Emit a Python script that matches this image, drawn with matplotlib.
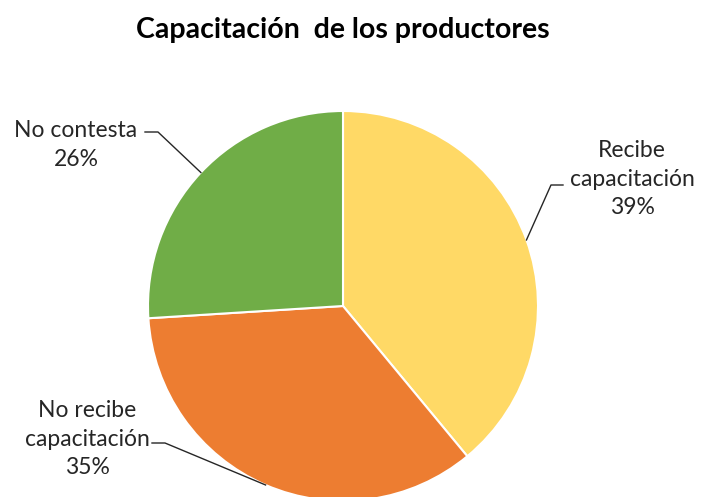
import numpy as np
import matplotlib.pyplot as plt

# datos del grafico
categorias = ['Recibe\ncapacitación', 'No recibe\ncapacitación', 'No contesta']
valores = [39, 35, 26]
colores = ['#FFD966', '#ED7D31', '#70AD47']

plt.rcParams['font.family'] = ['Lato', 'DejaVu Sans']

fig = plt.figure(figsize=(7.06, 4.97), dpi=100)
ax = fig.add_axes([0, 0, 1, 1])
ax.set_xlim(0, 706)
ax.set_ylim(0, 497)
ax.set_aspect('equal')
ax.axis('off')

cx, cy, r = 343, 497 - 306, 195
wedges, _ = ax.pie(valores, colors=colores, startangle=90, counterclock=False,
                   center=(cx, cy), radius=r,
                   wedgeprops=dict(edgecolor='white', linewidth=1.5))
ax.set_xlim(0, 706)
ax.set_ylim(0, 497)

# posiciones de etiquetas (x texto, y texto, codo de la linea, fin)
etiquetas = [
    (632, 497 - 179, (551, 497 - 185), (563, 497 - 185)),
    (87, 497 - 439, (165, 497 - 443), (152, 497 - 443)),
    (76, 497 - 145, (158, 497 - 132), (145, 497 - 132)),
]

for w, cat, val, (tx, ty, codo, fin) in zip(wedges, categorias, valores, etiquetas):
    ang = np.deg2rad((w.theta1 + w.theta2) / 2)
    px = cx + r * np.cos(ang)
    py = cy + r * np.sin(ang)
    ax.plot([px, codo[0], fin[0]], [py, codo[1], fin[1]], color='#262626', lw=1)
    ax.text(tx, ty, f'{cat}\n{val}%', ha='center', va='center',
            fontsize=16.5, color='#262626', linespacing=1.42)

fig.text(343 / 706, 1 - 30 / 497, 'Capacitación  de los productores', ha='center',
         va='center', fontsize=20.5, fontweight='bold', color='black')

plt.savefig('out.png', dpi=100)
